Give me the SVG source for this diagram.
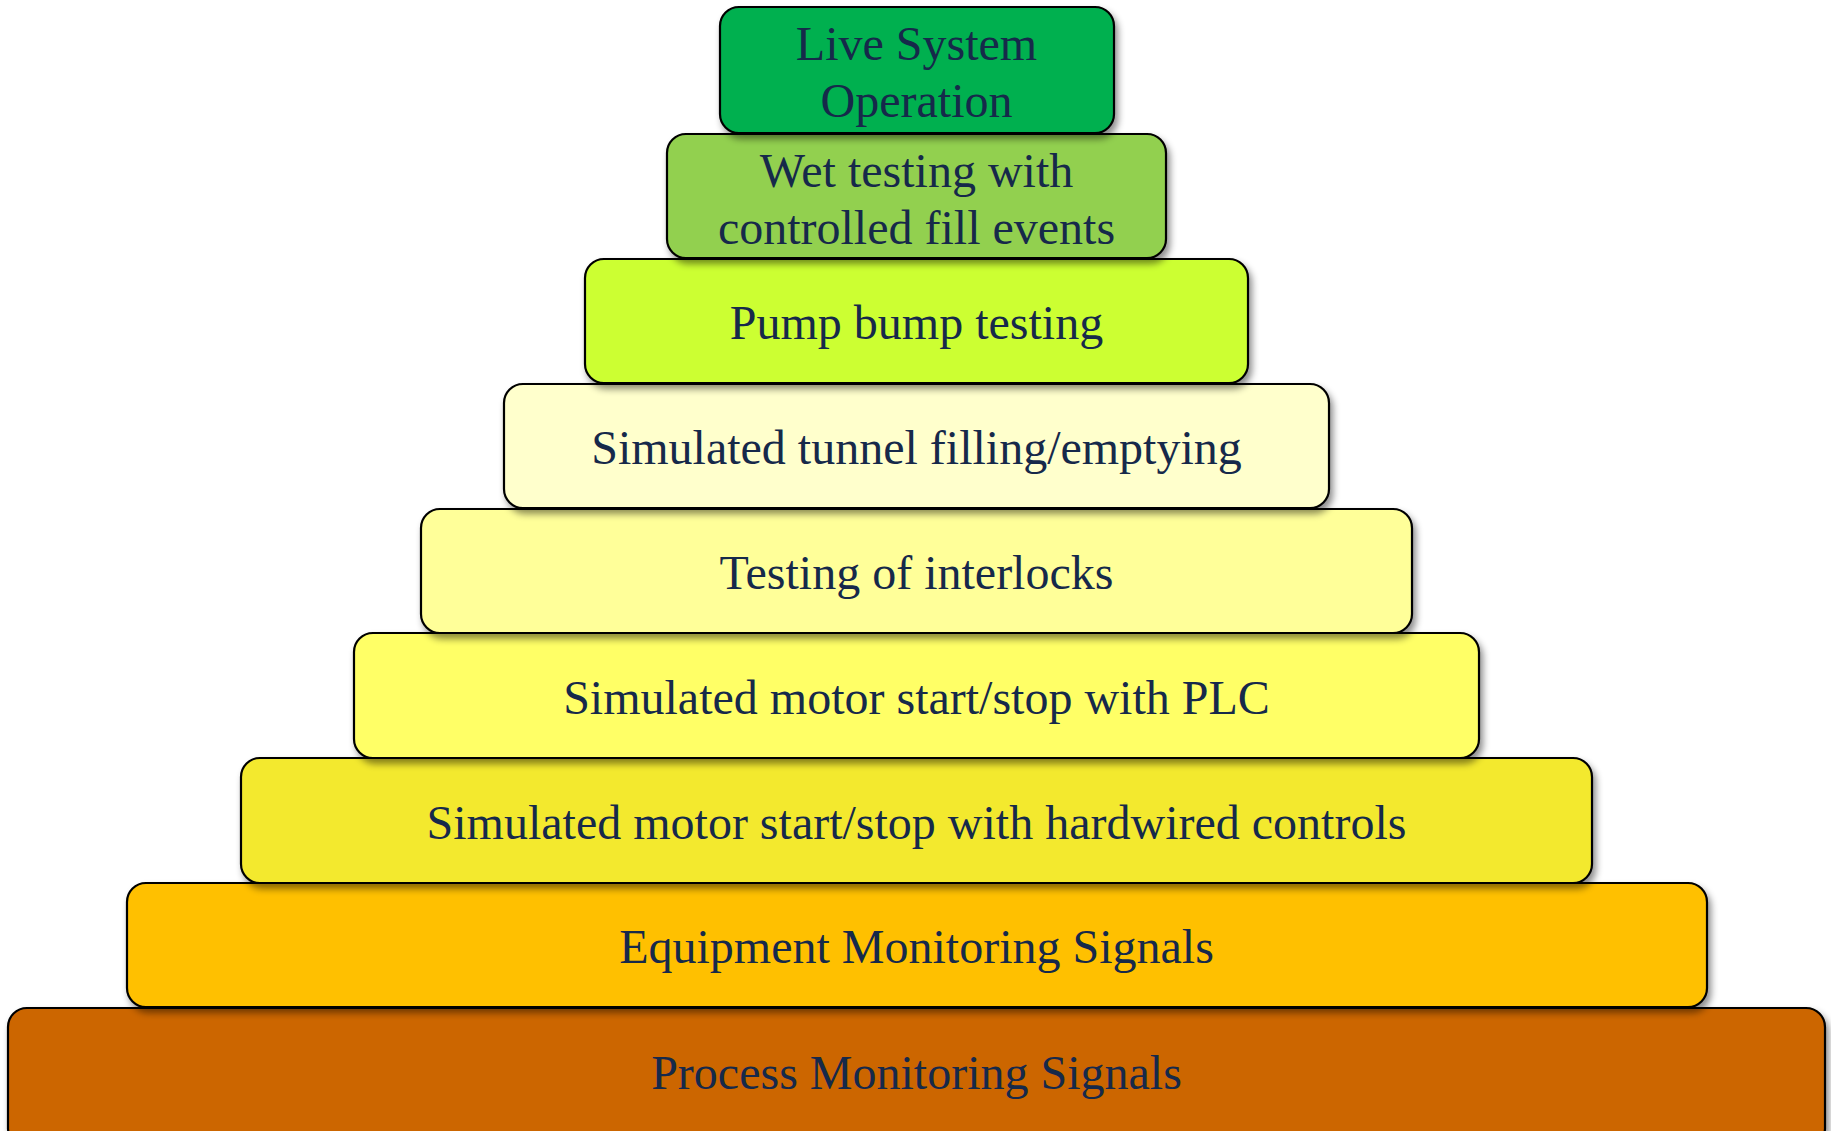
<svg xmlns="http://www.w3.org/2000/svg" width="1831" height="1131" viewBox="0 0 1831 1131">
<defs>
<filter id="sh" x="-5%" y="-20%" width="110%" height="150%">
<feDropShadow dx="3" dy="5" stdDeviation="3.5" flood-color="#000" flood-opacity="0.45"/>
</filter>
</defs>
<style>
.box{stroke:#000;stroke-width:2.2;filter:url(#sh)}
.t{font-family:"Liberation Serif","Times New Roman",serif;font-size:48px;fill:#16294a;text-anchor:middle}
</style>
<rect width="1831" height="1131" fill="#fff"/>
<g id="n9"><rect class="box" x="8" y="1008" width="1817" height="140" rx="19" fill="#CC6600"/><text class="t" x="916.5" y="1089">Process Monitoring Signals</text></g>
<g id="n8"><rect class="box" x="127" y="883" width="1580" height="124" rx="19" fill="#FFC000"/><text class="t" x="916.5" y="963">Equipment Monitoring Signals</text></g>
<g id="n7"><rect class="box" x="241" y="758" width="1351" height="125" rx="19" fill="#F3E92F"/><text class="t" x="916.5" y="839">Simulated motor start/stop with hardwired controls</text></g>
<g id="n6"><rect class="box" x="354" y="633" width="1125" height="125" rx="19" fill="#FFFF66"/><text class="t" x="916.5" y="714">Simulated motor start/stop with PLC</text></g>
<g id="n5"><rect class="box" x="421" y="509" width="991" height="124" rx="19" fill="#FFFF99"/><text class="t" x="916.5" y="589">Testing of interlocks</text></g>
<g id="n4"><rect class="box" x="504" y="384" width="825" height="124" rx="19" fill="#FFFFCC"/><text class="t" x="916.5" y="464">Simulated tunnel filling/emptying</text></g>
<g id="n3"><rect class="box" x="585" y="259" width="663" height="124" rx="19" fill="#CCFF33"/><text class="t" x="916.5" y="339">Pump bump testing</text></g>
<g id="n2"><rect class="box" x="667" y="134" width="499" height="124" rx="19" fill="#92D050"/><text class="t" x="916.5" y="187">Wet testing with</text><text class="t" x="916.5" y="244">controlled fill events</text></g>
<g id="n1"><rect class="box" x="720" y="7" width="394" height="126" rx="19" fill="#00B050"/><text class="t" x="916.5" y="60">Live System</text><text class="t" x="916.5" y="117">Operation</text></g>
<g id="connectors"/>
</svg>
